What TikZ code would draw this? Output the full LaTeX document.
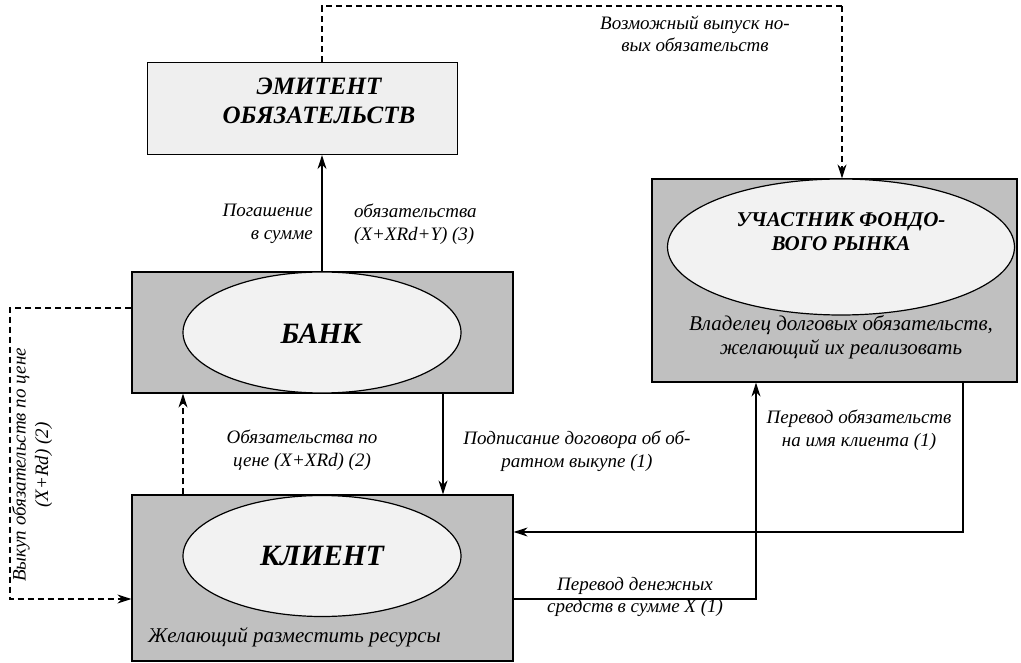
\documentclass[tikz,border=0pt]{standalone}
\usepackage{fontspec}
\setmainfont{Liberation Serif}
\usetikzlibrary{arrows.meta,shapes.geometric}
\definecolor{boxgray}{HTML}{C0C0C0}
\definecolor{lightbox}{HTML}{EFEFEF}
\definecolor{ellfill}{HTML}{F2F2F2}
\begin{document}
\begin{tikzpicture}[x=1pt,y=-1pt,
  lw/.style={line width=1.2pt},
  graybox/.style={draw,lw,fill=boxgray,rectangle,inner sep=0pt},
  ell/.style={draw,lw,fill=ellfill,ellipse,inner sep=0pt},
  title/.style={font=\fontsize{29.5}{32}\selectfont\bfseries\itshape,align=center},
  midtitle/.style={font=\fontsize{21}{24}\selectfont\bfseries\itshape,align=center},
  lbl/.style={font=\fontsize{19}{22.5}\selectfont\itshape,inner sep=0pt},
  sub/.style={font=\fontsize{21}{23.5}\selectfont\itshape,inner sep=0pt},
  arr/.style={lw,-{Stealth[length=14pt,width=9pt]}},
  dsh/.style={lw,dash pattern=on 6pt off 4pt},
  darr/.style={dsh,-{Stealth[length=14pt,width=9pt]}}]
\useasboundingbox (0,0) rectangle (1021,663);
% boxes
\node[draw,lw,fill=lightbox,inner sep=0pt,minimum width=310pt,minimum height=92pt] (emit) at (302.5,108.5) {};
\node[font=\fontsize{25}{29}\selectfont\bfseries\itshape,align=center] (emittxt) at (319,101) {ЭМИТЕНТ\\ОБЯЗАТЕЛЬСТВ};
\node[graybox,minimum width=381pt,minimum height=121pt] (bank) at (322.5,332.5) {};
\node[ell,minimum width=278pt,minimum height=121pt] (bankell) at (322,332.5) {};
\node[title] (banktxt) at (321,334) {БАНК};
\node[graybox,minimum width=381pt,minimum height=166pt] (client) at (322.5,578) {};
\node[ell,minimum width=278pt,minimum height=121pt] (clientell) at (322,556) {};
\node[title] (clienttxt) at (322,556) {КЛИЕНТ};
\node[sub,anchor=west] (clientsub) at (148,637) {Желающий разместить ресурсы};
\node[graybox,minimum width=365pt,minimum height=203pt] (part) at (834.5,280.5) {};
\node[ell,minimum width=347pt,minimum height=136pt] (partell) at (841,247) {};
\node[midtitle] (parttxt) at (841,232) {УЧАСТНИК ФОНДО-\\ВОГО РЫНКА};
\node[sub,align=center] (partsub) at (841,337) {Владелец долговых обязательств,\\желающий их реализовать};
% coordinates
\coordinate (T) at (322,6);
\coordinate (TR) at (842,6);
\coordinate (L1) at (10,308);
\coordinate (L2) at (10,599);
\coordinate (D1) at (183,0);
\coordinate (D2) at (443,0);
\coordinate (R1) at (963,532);
\coordinate (R2) at (756,599);
% connectors
\draw[arr] (bank.north -| T) -- (emit.south -| T);
\draw[dsh] (emit.north -| T) -- (T) -- (TR);
\draw[darr] (TR) -- (part.north -| TR);
\draw[darr] (L1 -| bank.west) -- (L1) -- (L2) -- (L2 -| client.west);
\draw[darr] (client.north -| D1) -- (bank.south -| D1);
\draw[arr] (bank.south -| D2) -- (client.north -| D2);
\draw[arr] (part.south -| R1) -- (R1) -- (R1 -| client.east);
\draw[arr] (R2 -| client.east) -- (R2) -- (part.south -| R2);
% labels
\node[lbl,align=right,anchor=east] (l1) at (313,224) {Погашение\\в сумме};
\node[lbl,align=left,anchor=west] (l2) at (354,224) {обязательства\\(X+XRd+Y) (3)};
\node[lbl,align=center] (l3) at (302,450) {Обязательства по\\цене (X+XRd) (2)};
\node[lbl,align=center] (l4) at (577,451) {Подписание договора об об-\\ратном выкупе (1)};
\node[lbl,align=center] (l5) at (859,430) {Перевод обязательств\\на имя клиента (1)};
\node[lbl,align=center] (l6) at (635,597) {Перевод денежных\\средств в сумме X (1)};
\node[lbl,align=center] (l7) at (695,34) {Возможный выпуск но-\\вых обязательств};
\node[lbl,align=center,rotate=90] (l8) at (32,465) {Выкуп обязательств по цене\\(X+Rd) (2)};
\end{tikzpicture}
\end{document}
